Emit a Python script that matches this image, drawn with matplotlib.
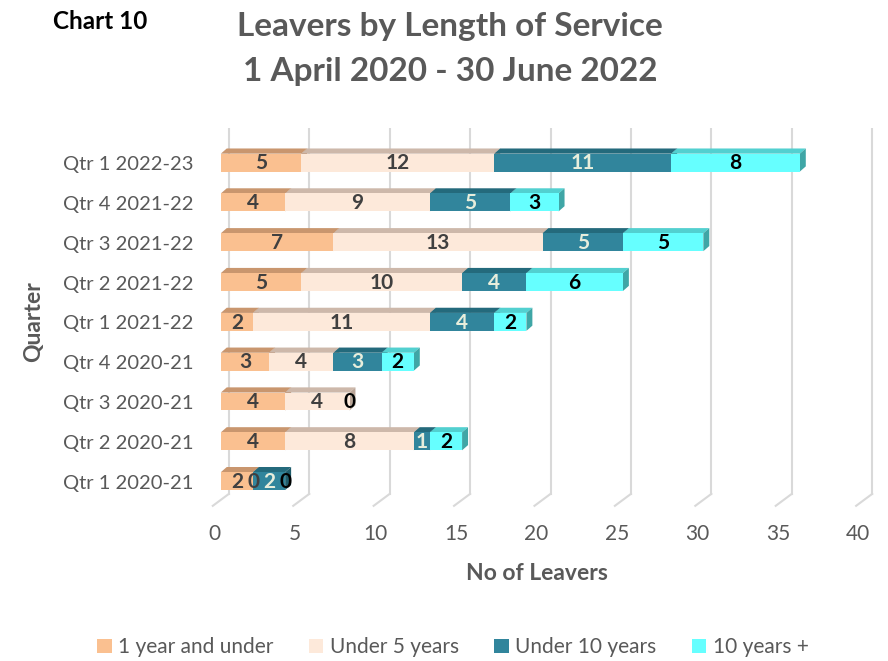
import matplotlib
matplotlib.use("Agg")
import matplotlib.pyplot as plt
from matplotlib.patches import Polygon, Rectangle
import numpy as np

plt.rcParams['font.family'] = ['Lato', 'DejaVu Sans']

quarters = ["Qtr 1 2020-21", "Qtr 2 2020-21", "Qtr 3 2020-21", "Qtr 4 2020-21",
            "Qtr 1 2021-22", "Qtr 2 2021-22", "Qtr 3 2021-22", "Qtr 4 2021-22",
            "Qtr 1 2022-23"]
series_names = ["1 year and under", "Under 5 years", "Under 10 years", "10 years +"]
one_year = [2, 4, 4, 3, 2, 5, 7, 4, 5]
under_5 = [0, 8, 4, 4, 11, 10, 13, 9, 12]
under_10 = [2, 1, 0, 3, 4, 4, 5, 5, 11]
ten_plus = [0, 2, 0, 2, 2, 6, 5, 3, 8]
x_ticks = [0, 5, 10, 15, 20, 25, 30, 35, 40]

data = [one_year, under_5, under_10, ten_plus]
front = ["#FAC090", "#FDE9DA", "#31859C", "#66FFFF"]
top = ["#C9966E", "#CDB8AA", "#246A7C", "#52D0D0"]
side = ["#B98660", "#BBA698", "#1F5C6B", "#3FA6A6"]
lab_col = ["#404040", "#404040", "#E8EEDC", "#000000"]

fig = plt.figure(figsize=(8.88, 6.61), dpi=100)
ax = fig.add_axes([0.2342, 0.2179, 0.7607, 0.5885])
ax.set_xlim(-0.8, 41.2)
ax.set_ylim(-0.9, 8.87)
ax.axis('off')

# gridlines: back wall + slanted floor
for v in x_ticks:
    ax.plot([v + 0.5, v + 0.5], [-0.32, 8.87], color="#D9D9D9", lw=1.5, zorder=0)
    ax.plot([v + 0.5, v - 0.5], [-0.32, -0.62], color="#D9D9D9", lw=1.5, zorder=0)
    ax.text(v - 0.37, -1.32, str(v), ha='center', va='center', fontsize=15,
            color="#595959", clip_on=False)

h = 0.45
dx, dy = 0.37, 0.13
for i, q in enumerate(quarters):
    left = 0
    z = 2
    for s in range(4):
        w = data[s][i]
        if w > 0:
            b = i - h / 2
            t = i + h / 2
            ax.add_patch(Polygon([(left, t), (left + dx, t + dy), (left + w + dx, t + dy), (left + w, t)],
                                 closed=True, facecolor=top[s], edgecolor='none', zorder=z))
            ax.add_patch(Polygon([(left + w, b), (left + w + dx, b + dy), (left + w + dx, t + dy), (left + w, t)],
                                 closed=True, facecolor=side[s], edgecolor='none', zorder=z))
            ax.add_patch(Rectangle((left, b), w, h, facecolor=front[s], edgecolor='none', zorder=z + 0.5))
        ax.text(left + w / 2, i - 0.02, str(w), ha='center', va='center', fontsize=15,
                fontweight='bold', color=lab_col[s], zorder=20)
        left += w
        z += 1
    ax.text(-1.7, i - 0.05, q, ha='right', va='center', fontsize=14.5, color="#595959",
            clip_on=False)

fig.text(0.06, 0.968, "Chart 10", fontsize=17.5, fontweight='bold', color="black", va='center')
fig.text(0.507, 0.960, "Leavers by Length of Service", fontsize=24, fontweight='bold',
         color="#595959", ha='center', va='center')
fig.text(0.507, 0.892, "1 April 2020 - 30 June 2022", fontsize=24, fontweight='bold',
         color="#595959", ha='center', va='center')
fig.text(0.038, 0.513, "Quarter", fontsize=16.5, fontweight='bold', color="#595959",
         rotation=90, ha='center', va='center')
fig.text(0.605, 0.133, "No of Leavers", fontsize=16.5, fontweight='bold', color="#595959",
         ha='center', va='center')

handles = [Rectangle((0, 0), 1, 1, facecolor=c, edgecolor='none') for c in front]
leg = fig.legend(handles, series_names, loc='center', bbox_to_anchor=(0.51, 0.021), ncol=4,
                 frameon=False, fontsize=15, handlelength=0.7, handleheight=0.7,
                 handletextpad=0.3, columnspacing=1.7)
for t in leg.get_texts():
    t.set_color("#595959")

fig.savefig("out.png", dpi=100)
